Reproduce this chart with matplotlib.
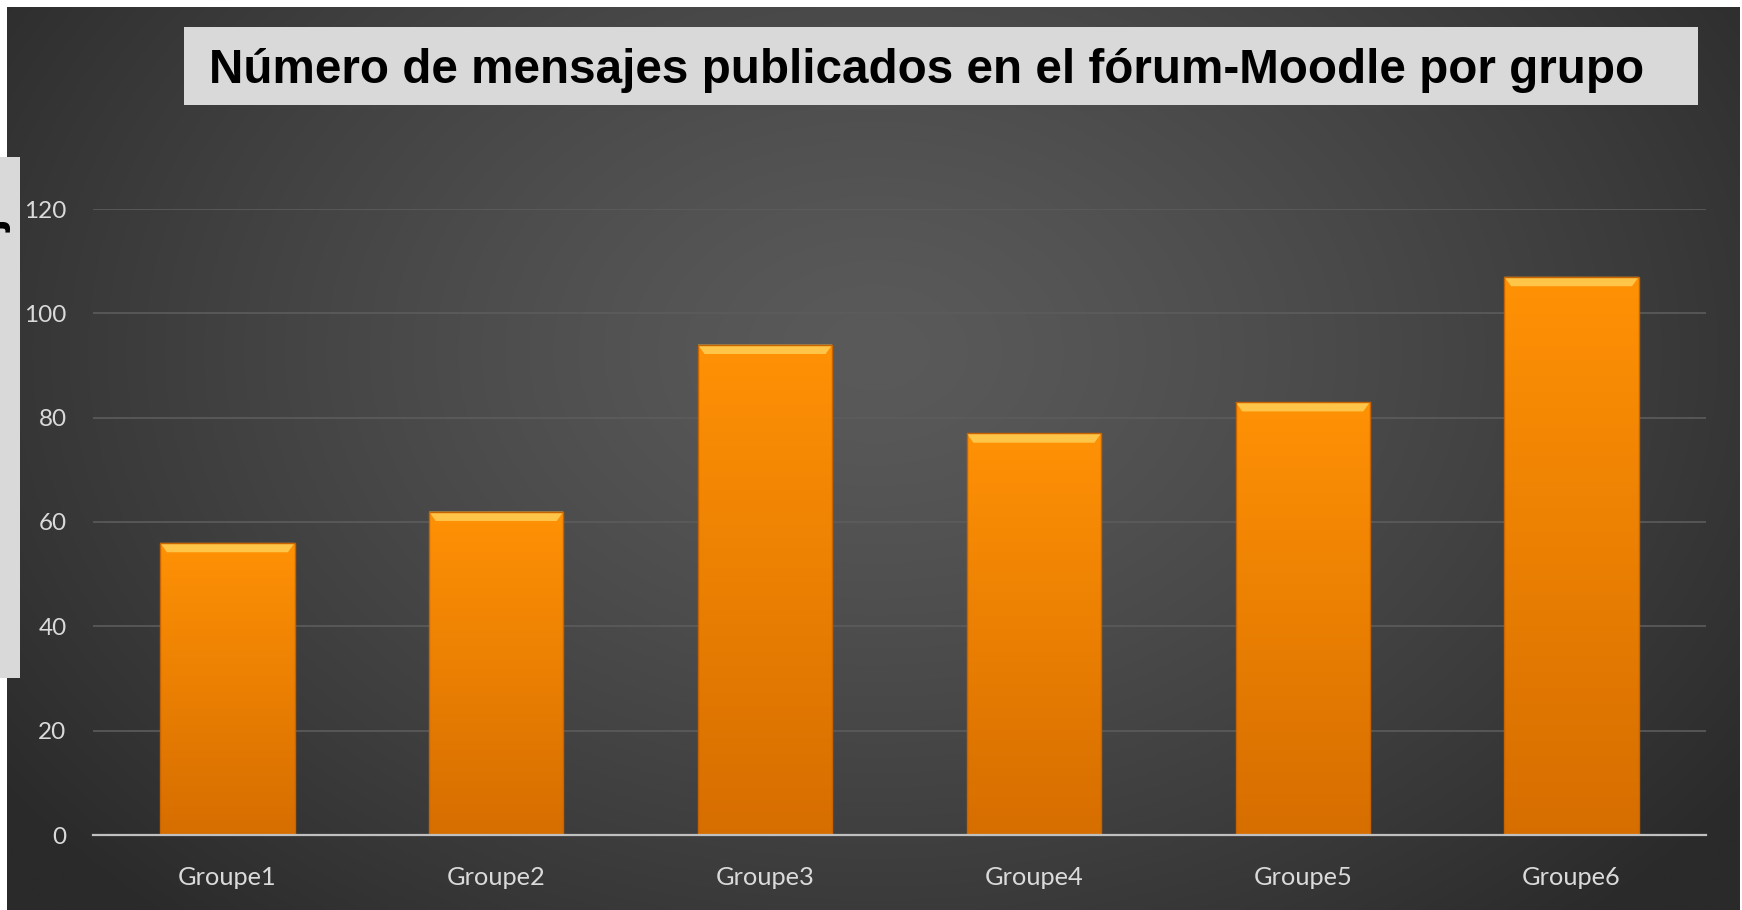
import numpy as np
import matplotlib
matplotlib.use("Agg")
import matplotlib.pyplot as plt
from matplotlib.patches import Rectangle, Polygon

categories = ["Groupe1", "Groupe2", "Groupe3", "Groupe4", "Groupe5", "Groupe6"]
values = [56, 62, 94, 77, 83, 107]
yticks = [0, 20, 40, 60, 80, 100, 120]
title = "Número de mensajes publicados en el fórum-Moodle por grupo"
ylabel = "Número de mensajes"

W, H = 1742, 910
fig = plt.figure(figsize=(W / 100, H / 100), dpi=100, facecolor="white")

# background radial gradient
bg = fig.add_axes([7 / W, 0, 1 - 10 / W, 1 - 7 / H])
bg.set_axis_off()
ny, nx = 300, 600
yy, xx = np.mgrid[0:ny, 0:nx]
cx, cy = nx * 0.5, ny * 0.38
r = np.sqrt(((xx - cx) / (nx * 0.62)) ** 2 + ((yy - cy) / (ny * 0.85)) ** 2)
r = np.clip(r, 0, 1)
light = np.array([0x5a, 0x5a, 0x5a]) / 255
dark = np.array([0x2a, 0x2a, 0x2a]) / 255
t = r[..., None] ** 1.3
img = light * (1 - t) + dark * t
bg.imshow(img, extent=[0, 1, 0, 1], aspect="auto", origin="upper")
bg.set_xlim(0, 1)
bg.set_ylim(0, 1)

ax = fig.add_axes([93 / W, 75 / H, 1613 / W, 626 / H])
ax.set_facecolor("none")
x = np.arange(len(categories))
bars = ax.bar(x, values, width=0.5, color="#f28a00", zorder=3)

# gradient fill per bar
grad = np.linspace(0, 1, 256)[:, None]
top_c = np.array([1.0, 0.57, 0.02])
bot_c = np.array([0.84, 0.43, 0.0])
gimg = top_c * (1 - grad[..., None]) + bot_c * grad[..., None]
gimg = np.repeat(gimg, 2, axis=1)
for b in bars:
    bx, bw, bh = b.get_x(), b.get_width(), b.get_height()
    im = ax.imshow(gimg, extent=[bx, bx + bw, 0, bh], aspect="auto",
                   origin="upper", zorder=4)
    im.set_clip_path(b)
    hh = 1.8
    hl = Polygon([(bx, bh), (bx + bw, bh), (bx + bw * 0.95, bh - hh),
                  (bx + bw * 0.05, bh - hh)], closed=True,
                 facecolor="#ffc94d", edgecolor="none", zorder=5, alpha=0.95)
    ax.add_patch(hl)
    ax.add_patch(Rectangle((bx, 0), bw, bh, facecolor="none",
                           edgecolor="#c86400", lw=1.0, zorder=5))

ax.set_xlim(-0.5, len(categories) - 0.5)
ax.set_ylim(0, 120)
ax.set_yticks(yticks)
ax.set_xticks(x)
ax.set_xticklabels(categories)
ax.yaxis.grid(True, color="#5c5c5c", lw=1.2, zorder=1)
ax.set_axisbelow(True)
for s in ["top", "right", "left"]:
    ax.spines[s].set_visible(False)
ax.spines["bottom"].set_color("#c0c0c0")
ax.spines["bottom"].set_linewidth(1.6)
ax.spines["bottom"].set_zorder(6)
ax.tick_params(axis="both", length=0, colors="#dadada")
ax.tick_params(axis="y", pad=19, labelsize=17.5)
ax.tick_params(axis="x", pad=22, labelsize=18.3)
for lab in ax.get_xticklabels() + ax.get_yticklabels():
    lab.set_family("Lato")

# title box
fig.patches.append(Rectangle((184 / W, 1 - 105 / H), (1698 - 184) / W, 78 / H,
                             transform=fig.transFigure, facecolor="#d9d9d9",
                             edgecolor="none", zorder=5))
fig.text(209 / W, 1 - 83 / H, title, fontsize=34.3, fontweight="bold",
         family="Liberation Sans", color="black", ha="left", va="baseline", zorder=6)

# left clipped y-label box (text cut off at the figure edge as in the source)
fig.patches.append(Rectangle((0, 1 - 678 / H), 20 / W, (678 - 157) / H,
                             transform=fig.transFigure, facecolor="#d9d9d9",
                             edgecolor="none", zorder=5))
fig.text(1.5 / W, 1 - 404 / H, ylabel, fontsize=34.3, fontweight="bold",
         family="Liberation Sans", color="black", rotation=90,
         rotation_mode="anchor", ha="center", va="baseline", zorder=6)

fig.savefig("out.png", dpi=100, facecolor="white")
